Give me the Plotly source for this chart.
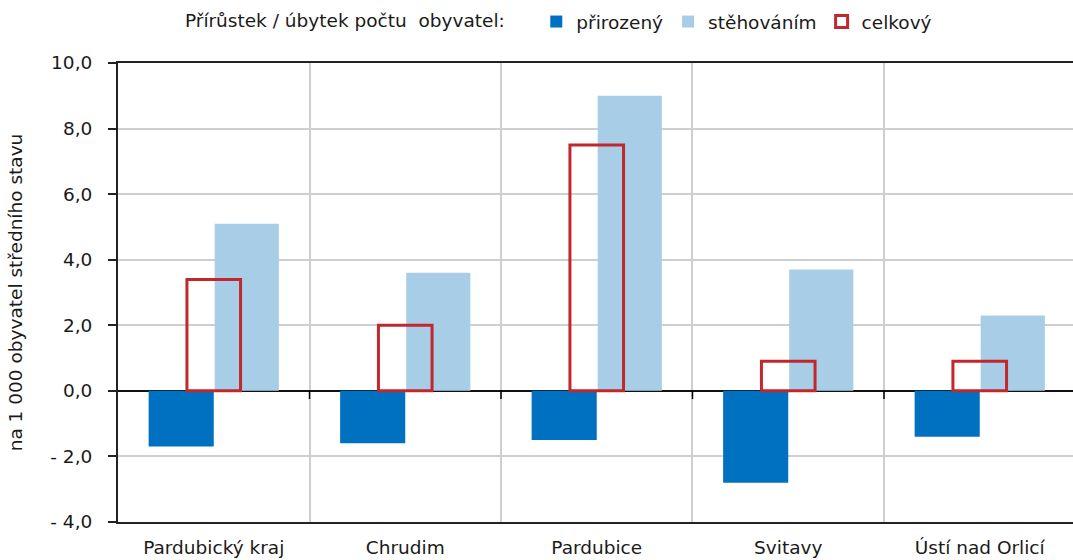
import plotly.graph_objects as go

categories = ["Pardubický kraj", "Chrudim", "Pardubice", "Svitavy", "Ústí nad Orlicí"]
prirozeny = [-1.7, -1.6, -1.5, -2.8, -1.4]
stehovanim = [5.1, 3.6, 9.0, 3.7, 2.3]
celkovy = [3.4, 2.0, 7.5, 0.9, 0.9]

y_ticks = [-4, -2, 0, 2, 4, 6, 8, 10]
y_ticktext = ["- 4,0", "- 2,0", "0,0", "2,0", "4,0", "6,0", "8,0", "10,0"]

FONT = "DejaVu Sans"
FS = 18.5
TXT = "#1a1a1a"
fig = go.Figure()
fig.add_trace(go.Bar(x=categories, y=prirozeny, name="přirozený",
                     marker=dict(color="#0070C0", line=dict(width=0)),
                     offset=-0.34, width=0.34))
fig.add_trace(go.Bar(x=categories, y=stehovanim, name="stěhováním",
                     marker=dict(color="#A7CDE7", line=dict(width=0)),
                     offset=0.005, width=0.335))
fig.add_trace(go.Bar(x=categories, y=celkovy, name="celkový",
                     marker=dict(color="rgba(255,255,255,0)",
                                 line=dict(color="#C1272D", width=3)),
                     offset=-0.14, width=0.28))

shapes = []
for i in range(len(categories) - 1):
    shapes.append(dict(type="line", xref="x", yref="y",
                       x0=i + 0.5, x1=i + 0.5, y0=0, y1=-0.25,
                       line=dict(color="black", width=1.5)))
fig.update_layout(shapes=shapes)

fig.update_layout(
    width=1073, height=560,
    margin=dict(l=118, r=0, t=63, b=38, autoexpand=False),
    plot_bgcolor="white", paper_bgcolor="white",
    barmode="overlay",
    font=dict(family=FONT, size=FS, color=TXT),
    showlegend=True,
    legend=dict(orientation="h", x=0.068, xanchor="left", y=1.0893, yanchor="middle",
                font=dict(family=FONT, size=FS, color=TXT),
                title=dict(text="Přírůstek / úbytek počtu  obyvatel:\u00a0\u00a0\u00a0\u00a0",
                           side="left",
                           font=dict(family=FONT, size=FS, color=TXT)),
                itemwidth=30, traceorder="normal", bgcolor="rgba(0,0,0,0)"),
    xaxis=dict(type="category", range=[-0.5, 4.487], tickson="boundaries",
               showgrid=True, gridcolor="#CFCFCF", gridwidth=1.5,
               showline=True, linecolor="#222", linewidth=2, mirror=True,
               ticks="", automargin=False, ticklabelstandoff=8,
               tickfont=dict(family=FONT, size=FS, color=TXT)),
    yaxis=dict(range=[-4, 10], tickvals=y_ticks, ticktext=y_ticktext,
               showgrid=True, gridcolor="#CFCFCF", gridwidth=1.5,
               zeroline=True, zerolinecolor="#111", zerolinewidth=1.5,
               showline=True, linecolor="#222", linewidth=2,
               ticks="outside", ticklen=8, tickwidth=1.5, tickcolor="#222",
               automargin=False, ticklabelstandoff=12,
               tickfont=dict(family=FONT, size=FS, color=TXT),
               title=dict(text="na 1 000 obyvatel středního stavu", standoff=23,
                          font=dict(family=FONT, size=FS, color=TXT))),
)

fig.write_html("out.html", config={"displayModeBar": False},
               post_script="document.body.style.margin='0';document.body.style.overflow='hidden';")
